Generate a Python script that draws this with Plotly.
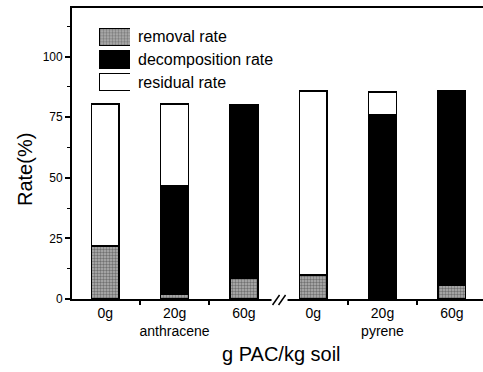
import plotly.graph_objects as go

# Soil treatment groups: PAC dose per kg soil, for each compound
doses = ["0g", "20g", "60g", "0g", "20g", "60g"]
compounds = ["anthracene", "anthracene", "anthracene", "pyrene", "pyrene", "pyrene"]

# Stacked components (%), bottom to top
removal = [21.8, 2.0, 8.5, 9.9, 0.6, 5.8]
decomposition = [0.0, 44.5, 71.7, 0.0, 75.4, 79.9]
residual = [58.7, 34.0, 0.0, 75.8, 9.3, 0.0]

series_names = ["removal rate", "decomposition rate", "residual rate"]
y_ticks = [0, 25, 50, 75, 100]

FONT = "Liberation Sans, Arial, sans-serif"
W, H = 483, 372
ML, MR, MT, MB = 72, 0, 8, 73
plot_w, plot_h = W - ML - MR, H - MT - MB

positions = list(range(len(doses)))
x_range = [-0.48, 5.45]
y_range = [0, 120]

# tick text: dose under each bar, compound name under the middle bar of a group
ticktext = []
for i, (d, c) in enumerate(zip(doses, compounds)):
    mid = (i % 3) == 1
    ticktext.append(f"{d}<br>{c}" if mid else d)

gray_fill = "#b4b4b4"
speckle = "#2e2e2e"
pattern_removal = dict(shape=".", fgcolor=speckle, bgcolor=gray_fill, size=3, solidity=0.5)
outline = dict(color="black", width=1.5)

fig = go.Figure()
fig.add_trace(go.Bar(x=positions, y=removal, name=series_names[0], width=0.4,
                     marker=dict(color=gray_fill, pattern=pattern_removal, line=outline),
                     showlegend=False))
fig.add_trace(go.Bar(x=positions, y=decomposition, name=series_names[1], width=0.4,
                     marker=dict(color="black", line=outline), showlegend=False))
fig.add_trace(go.Bar(x=positions, y=residual, name=series_names[2], width=0.4,
                     marker=dict(color="white", line=outline), showlegend=False))

# Key: one swatch bar per series on a small inset axis, labels on its right side
fig.add_trace(go.Bar(
    y=series_names, x=[1, 1, 1], orientation="h", width=0.75,
    xaxis="x2", yaxis="y2", showlegend=False, hoverinfo="skip",
    marker=dict(
        color=[gray_fill, "black", "white"],
        pattern=dict(shape=[".", "", ""], fgcolor=speckle, size=3, solidity=0.5),
        line=dict(color="black", width=1),
    ),
))

fig.update_layout(
    width=W, height=H,
    margin=dict(l=ML, r=MR, t=MT, b=MB),
    paper_bgcolor="white", plot_bgcolor="white",
    barmode="stack",
    font=dict(family=FONT, color="black", size=14),
    xaxis=dict(
        range=x_range, tickmode="array", tickvals=positions, ticktext=ticktext,
        ticks="", showgrid=False, zeroline=False,
        showline=True, linecolor="black", linewidth=1.8, mirror=True,
        tickfont=dict(size=14), ticklabelstandoff=0,
        minor=dict(tickmode="array", tickvals=[0.5, 1.5, 3.5, 4.5],
                   ticks="outside", ticklen=4, tickwidth=1.5, tickcolor="black"),
    ),
    yaxis=dict(
        range=y_range, tickmode="array", tickvals=y_ticks,
        ticks="outside", ticklen=5, tickwidth=1.5, tickcolor="black",
        showgrid=False, zeroline=False,
        showline=True, linecolor="black", linewidth=1.8,
        tickfont=dict(size=12),
        minor=dict(dtick=12.5, ticks="outside", ticklen=3, tickwidth=1, tickcolor="black"),
    ),
    xaxis2=dict(domain=[27 / plot_w, 58 / plot_w], anchor="y2", range=[0, 1],
                visible=False, fixedrange=True),
    yaxis2=dict(domain=[(H - MB - 93.7) / plot_h, (H - MB - 25.3) / plot_h],
                anchor="x2", side="right", autorange="reversed",
                showgrid=False, zeroline=False, showline=False, ticks="",
                tickfont=dict(size=16), ticklabelstandoff=7, fixedrange=True),
)

# axis titles
fig.add_annotation(text="Rate(%)", xref="paper", yref="paper",
                   x=(25 - ML) / plot_w, y=(H - MB - 170) / plot_h,
                   textangle=-90, showarrow=False, xanchor="center", yanchor="middle",
                   font=dict(size=20))
fig.add_annotation(text="g PAC/kg soil", xref="paper", yref="paper",
                   x=(281 - ML) / plot_w, y=(H - MB - 354) / plot_h,
                   showarrow=False, xanchor="center", yanchor="middle",
                   font=dict(size=20))

# axis break "//" between the two compound groups
break_x = (2.5 - x_range[0]) / (x_range[1] - x_range[0])
fig.add_shape(type="rect", xref="paper", yref="paper", xsizemode="pixel", ysizemode="pixel",
              xanchor=break_x, yanchor=0, x0=-7, x1=9, y0=-3, y1=3,
              fillcolor="white", line=dict(width=0), layer="above")
for dx in (-2, 4):
    fig.add_shape(type="line", xref="paper", yref="paper", xsizemode="pixel", ysizemode="pixel",
                  xanchor=break_x, yanchor=0, x0=dx - 4, x1=dx + 3, y0=-6, y1=4,
                  line=dict(color="black", width=1.5), layer="above")

fig.write_html("out.html")
